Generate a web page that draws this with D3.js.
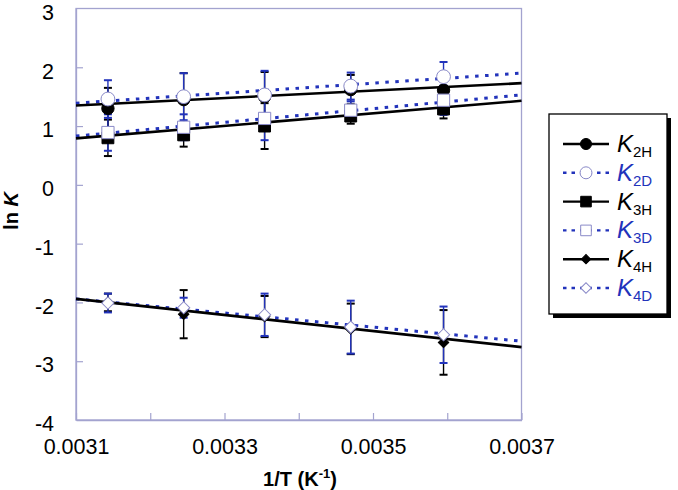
<!DOCTYPE html>
<html><head><meta charset="utf-8">
<script src="https://cdn.jsdelivr.net/npm/d3@7"></script>
<style>body{margin:0;background:#fff}svg{display:block;font-family:"Liberation Sans",Arial,sans-serif}</style>
</head><body><svg id="c" width="678" height="490"></svg>
<script>
const invT = [0.003143, 0.003245, 0.003354, 0.003470, 0.003595];
const xTickVals = [0.0031, 0.0032, 0.0033, 0.0034, 0.0035, 0.0036, 0.0037];
const xTickLabels = ["0.0031", "0.0033", "0.0035", "0.0037"];
const yTickVals = [3, 2, 1, 0, -1, -2, -3, -4];
const k2H = [1.30, 1.45, 1.50, 1.62, 1.61];
const k2HErr = [0.35, 0.45, 0.42, 0.25, 0.22];
const k2D = [1.46, 1.50, 1.53, 1.68, 1.84];
const k2DErr = [0.32, 0.40, 0.41, 0.23, 0.25];
const k3H = [0.80, 0.85, 1.00, 1.17, 1.29];
const k3HErr = [0.31, 0.20, 0.39, 0.13, 0.16];
const k3D = [0.89, 0.98, 1.13, 1.27, 1.44];
const k3DErr = [0.31, 0.22, 0.37, 0.15, 0.25];
const k4H = [-2.00, -2.20, -2.24, -2.45, -2.68];
const k4HErr = [0.15, 0.41, 0.35, 0.43, 0.55];
const k4D = [-2.01, -2.09, -2.21, -2.42, -2.55];
const k4DErr = [0.16, 0.17, 0.36, 0.45, 0.48];
const fitX = [0.0031, 0.0037];
const fit2H = [1.35, 1.73];
const fit2D = [1.39, 1.90];
const fit3H = [0.79, 1.43];
const fit3D = [0.83, 1.53];
const fit4H = [-1.94, -2.76];
const fit4D = [-1.94, -2.66];
const seriesNames = ["2H", "2D", "3H", "3D", "4H", "4D"];

const BLUE = "#2233bb", FRAME = "#a3a3cf";
const svg = d3.select("#c");
const L = 76, R = 521.5, T = 8.5, B = 420;
const x = d3.scaleLinear().domain([0.0031, 0.0037]).range([L, R]);
const y = d3.scaleLinear().domain([-4, 3]).range([B, T]);

// frame
svg.append("rect").attr("x", L).attr("y", T).attr("width", R - L).attr("height", B - T)
  .attr("fill", "none").attr("stroke", FRAME).attr("stroke-width", 1.3);

// axes
const yAxis = d3.axisLeft(y).tickValues(yTickVals).tickFormat(d => String(d)).tickSizeInner(-7).tickSizeOuter(0).tickPadding(22);
const gy = svg.append("g").attr("transform", `translate(${L},0)`).call(yAxis);
const xAxis = d3.axisBottom(x).tickValues(xTickVals)
  .tickFormat(d => { const s = d.toFixed(4); return xTickLabels.includes(s) ? s : ""; })
  .tickSizeInner(-7).tickSizeOuter(0).tickPadding(19);
const gx = svg.append("g").attr("transform", `translate(0,${B})`).call(xAxis);
[gx, gy].forEach(g => {
  g.select(".domain").attr("stroke", FRAME).attr("stroke-width", 1.3);
  g.selectAll(".tick line").attr("stroke", FRAME).attr("stroke-width", 1.2);
  g.selectAll(".tick text").attr("fill", "#000").style("font-size", "21.5px").style("font-family", "'Liberation Sans',Arial,sans-serif");
});
gy.selectAll(".tick").filter(d => d === 3 || d === -4).select("line").remove();
gy.selectAll(".tick text").attr("dy", "0.5em");
gx.selectAll(".tick text").attr("dy", "0.71em");

// axis titles
const yt = svg.append("text").attr("transform", "translate(18,211) rotate(-90)").attr("text-anchor", "middle")
  .style("font-size", "20px").style("font-weight", "bold");
yt.append("tspan").text("ln ");
yt.append("tspan").attr("font-style", "italic").text("K");
const xt = svg.append("text").attr("x", 300).attr("y", 486).attr("text-anchor", "middle")
  .style("font-size", "20px").style("font-weight", "bold");
xt.append("tspan").text("1/T (K");
xt.append("tspan").attr("dy", -8).style("font-size", "13px").text("-1");
xt.append("tspan").attr("dy", 8).text(")");

const series = [
  {name: "2H", v: k2H, e: k2HErr, fit: fit2H, color: "#000", open: false, sym: d3.symbolCircle, size: 120, rot: 0},
  {name: "3H", v: k3H, e: k3HErr, fit: fit3H, color: "#000", open: false, sym: d3.symbolSquare, size: 140, rot: 0},
  {name: "4H", v: k4H, e: k4HErr, fit: fit4H, color: "#000", open: false, sym: d3.symbolSquare, size: 55, rot: 45},
  {name: "2D", v: k2D, e: k2DErr, fit: fit2D, color: BLUE, open: true, sym: d3.symbolCircle, size: 150, rot: 0},
  {name: "3D", v: k3D, e: k3DErr, fit: fit3D, color: BLUE, open: true, sym: d3.symbolSquare, size: 150, rot: 0},
  {name: "4D", v: k4D, e: k4DErr, fit: fit4D, color: BLUE, open: true, sym: d3.symbolSquare, size: 75, rot: 45}
];

const plot = svg.append("g");
function drawFit(s) {
  const line = d3.line().x((d, i) => x(fitX[i])).y(d => y(d));
  const p = plot.append("path").datum(s.fit).attr("d", line).attr("fill", "none")
    .attr("stroke", s.color).attr("stroke-width", s.open ? 3 : 2.6);
  if (s.open) p.attr("stroke-dasharray", "3.5,6.5");
}
function drawErr(s) {
  const g = plot.append("g").attr("stroke", s.color).attr("stroke-width", 1.4);
  s.v.forEach((v, i) => {
    const cx = x(invT[i]), y1 = y(v + s.e[i]), y2 = y(v - s.e[i]);
    g.append("line").attr("x1", cx).attr("x2", cx).attr("y1", y1).attr("y2", y2);
    g.append("line").attr("x1", cx - 4).attr("x2", cx + 4).attr("y1", y1).attr("y2", y1).attr("stroke-width", 2);
    g.append("line").attr("x1", cx - 4).attr("x2", cx + 4).attr("y1", y2).attr("y2", y2).attr("stroke-width", 2);
  });
}
function drawMarkers(s) {
  plot.append("g").selectAll("path").data(s.v).join("path")
    .attr("transform", (v, i) => `translate(${x(invT[i])},${y(v)}) rotate(${s.rot})`)
    .attr("d", d3.symbol().type(s.sym).size(s.size))
    .attr("fill", s.open ? "#fff" : "#000")
    .attr("stroke", s.open ? "#8a8ac8" : "#000").attr("stroke-width", 1);
}
series.filter(s => !s.open).forEach(s => { drawErr(s); });
series.filter(s => s.open).forEach(s => { drawErr(s); });
series.filter(s => s.open).forEach(drawFit);
series.filter(s => !s.open).forEach(drawFit);
series.filter(s => !s.open).forEach(drawMarkers);
series.filter(s => s.open).forEach(drawMarkers);

// legend
const lg = svg.append("g");
lg.append("rect").attr("x", 553).attr("y", 118).attr("width", 118).attr("height", 200).attr("fill", "#000");
lg.append("rect").attr("x", 549).attr("y", 114).attr("width", 118).attr("height", 200).attr("fill", "#fff")
  .attr("stroke", "#000").attr("stroke-width", 1.3);
const order = ["2H", "2D", "3H", "3D", "4H", "4D"];
order.forEach((n, i) => {
  const s = series.find(d => d.name === n);
  const cy = 144 + i * 28.8;
  const ln = lg.append("line").attr("x1", 563).attr("x2", 609).attr("y1", cy).attr("y2", cy)
    .attr("stroke", s.color).attr("stroke-width", 2.4);
  if (s.open) ln.attr("stroke-dasharray", "3.5,5");
  lg.append("path").attr("transform", `translate(586,${cy}) rotate(${s.rot})`)
    .attr("d", d3.symbol().type(s.sym).size(s.open ? s.size * 0.75 : s.size * 0.8))
    .attr("fill", s.open ? "#fff" : "#000").attr("stroke", s.open ? "#8a8ac8" : "#000");
  const t = lg.append("text").attr("x", 617).attr("y", cy + 8).attr("fill", s.open ? BLUE : "#000");
  t.append("tspan").attr("font-style", "italic").style("font-size", "24px").text("K");
  t.append("tspan").attr("dy", 5).style("font-size", "15px").text(n);
});
</script></body></html>
